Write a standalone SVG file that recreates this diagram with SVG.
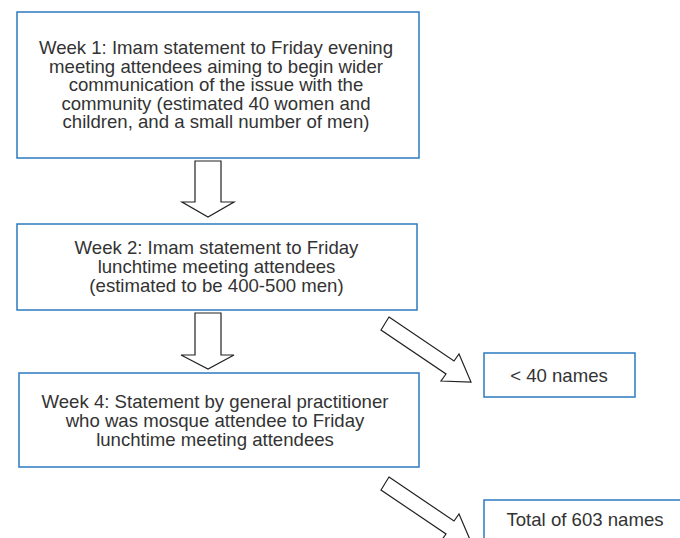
<svg xmlns="http://www.w3.org/2000/svg" width="680" height="538" viewBox="0 0 680 538">
<style>
.box{fill:#fff;stroke:#2b7bbf;stroke-width:1.5}
.arr{fill:#fff;stroke:#222;stroke-width:1.2;stroke-linejoin:miter}
text{font-family:"Liberation Sans",Arial,sans-serif;font-size:18.6px;fill:#333;text-anchor:middle}
</style>
<rect width="680" height="538" fill="#fff"/>
<g id="connectors">
<polygon class="arr" points="195,161 221,161 221,202 234,202 208,217 182,202 195,202"/>
<polygon class="arr" points="195,313 221,313 221,355 234,355 208,369 181,355 195,355"/>
<polygon class="arr" points="389,317 454,361 459,354 471,382 441,381 446,374 381,330"/>
<polygon class="arr" points="389,477 454,521 459,514 471,542 441,541 446,534 381,490"/>
</g>
<g id="week1">
<rect class="box" x="17" y="12" width="402" height="146"/>
<text x="216" y="54">Week 1: Imam statement to Friday evening</text>
<text x="216" y="72.5">meeting attendees aiming to begin wider</text>
<text x="216" y="91">communication of the issue with the</text>
<text x="216" y="109.5">community (estimated 40 women and</text>
<text x="216" y="128">children, and a small number of men)</text>
</g>
<g id="week2">
<rect class="box" x="17" y="224" width="400" height="86"/>
<text x="216.5" y="254.3">Week 2: Imam statement to Friday</text>
<text x="216.5" y="273.3">lunchtime meeting attendees</text>
<text x="216.5" y="292">(estimated to be 400-500 men)</text>
</g>
<g id="week4">
<rect class="box" x="19" y="373" width="400" height="94"/>
<text x="215" y="407.7">Week 4: Statement by general practitioner</text>
<text x="215" y="426.7">who was mosque attendee to Friday</text>
<text x="215" y="445.5">lunchtime meeting attendees</text>
</g>
<g id="names40">
<rect class="box" x="484" y="353" width="151" height="44"/>
<text x="559" y="381.7">&lt; 40 names</text>
</g>
<g id="names603">
<rect class="box" x="484" y="500" width="220" height="60"/>
<text x="585" y="525.7">Total of 603 names</text>
</g>
</svg>
